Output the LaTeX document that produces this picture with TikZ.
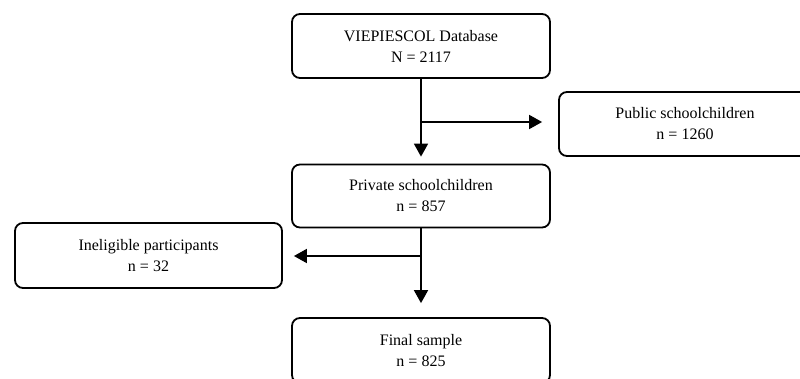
\documentclass[tikz,border=0pt]{standalone}
\usepackage{fontspec}
\setmainfont{Liberation Serif}
\usetikzlibrary{arrows.meta}

\begin{document}
\begin{tikzpicture}[x=1pt, y=-1pt, >={Triangle[length=13pt, width=14pt]},
	flowbox/.style={draw, line width=1.8pt, rounded corners=8pt, align=center,
		minimum width=258pt, minimum height=64pt, inner sep=0pt,
		font=\fontsize{16}{21}\selectfont},
	flowline/.style={line width=1.8pt}]
	\useasboundingbox (0,0) rectangle (800,378);
	\clip (0,0) rectangle (800,378);
	\node[flowbox] (db) at (421,46) {VIEPIESCOL Database\\N = 2117};
	\node[flowbox, minimum width=252pt] (public) at (685,124) {Public schoolchildren\\n = 1260};
	\node[flowbox, minimum height=63pt] (private) at (421,196) {Private schoolchildren\\n = 857};
	\node[flowbox, minimum width=267pt, minimum height=65pt] (inelig) at (148.5,255.5) {Ineligible participants\\n = 32};
	\node[flowbox, minimum height=65pt] (final) at (421,350.5) {Final sample\\n = 825};
	\coordinate (split1) at (421,122);
	\coordinate (split2) at (421,256);
	\draw[flowline, ->, shorten >=7pt] (db.south) -- (private.north);
	\draw[flowline, ->, shorten >=16pt] (split1) -- (split1 -| public.west);
	\draw[flowline, ->, shorten >=14pt] (private.south) -- (final.north);
	\draw[flowline, ->, shorten >=11pt] (split2) -- (split2 -| inelig.east);
\end{tikzpicture}
\end{document}
